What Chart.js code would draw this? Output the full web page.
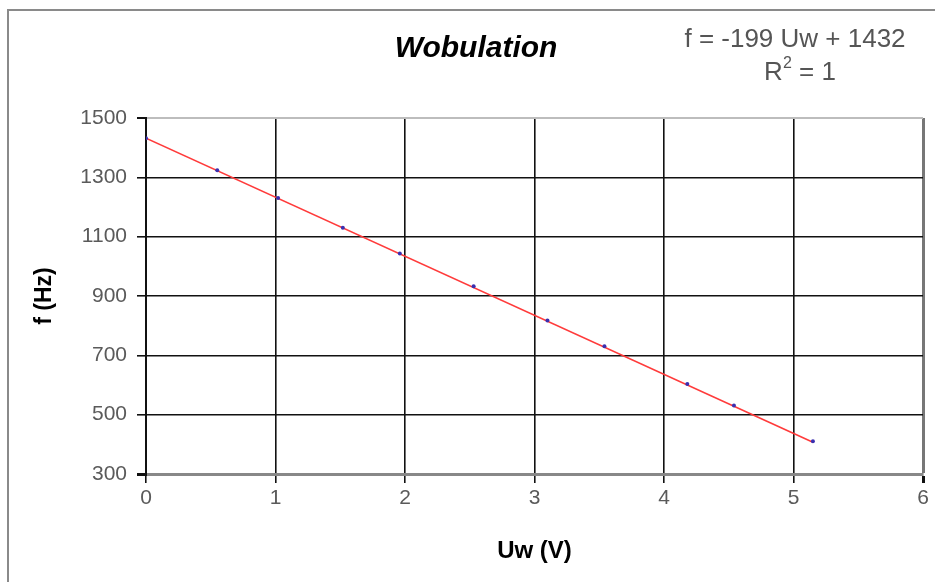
<!DOCTYPE html>
<html>
<head>
<meta charset="utf-8">
<title>Wobulation</title>
<script src="https://cdn.jsdelivr.net/npm/chart.js@4/dist/chart.umd.min.js"></script>
<style>
  html, body { margin: 0; padding: 0; background: #fff; }
  #wrap { width: 935px; height: 582px; position: relative; }
</style>
</head>
<body>
<div id="wrap"><canvas id="chart" width="935" height="582"></canvas></div>
<script>
// Measured control voltage (V) and resulting frequency (Hz)
const uwVolts = [0, 0.55, 1.02, 1.52, 1.96, 2.53, 3.10, 3.54, 4.18, 4.54, 5.15];
const freqHz  = [1432, 1324, 1230, 1130, 1043, 933, 817, 731, 603, 531, 410];

// Linear regression result shown on the chart
const slope = -199;
const intercept = 1432;
const rSquared = 1;

// Axis tick values
const xTicks = [0, 1, 2, 3, 4, 5, 6];
const yTicks = [300, 500, 700, 900, 1100, 1300, 1500];

const FONT = "'Liberation Sans', Arial, sans-serif";

const points = uwVolts.map((u, i) => ({ x: u, y: freqHz[i] }));
const lastU = uwVolts[uwVolts.length - 1];
const trend = [
  { x: 0, y: intercept },
  { x: lastU, y: slope * lastU + intercept }
];

// Frame, title and regression text
const decorations = {
  id: 'decorations',
  beforeDraw(chart) {
    const ctx = chart.ctx;
    ctx.save();
    ctx.fillStyle = '#fff';
    ctx.fillRect(0, 0, chart.width, chart.height);
    ctx.strokeStyle = '#8a8a8a';
    ctx.lineWidth = 2;
    ctx.strokeRect(8, 10, chart.width + 20, chart.height + 20);
    ctx.restore();
  },
  afterDraw(chart) {
    const ctx = chart.ctx;
    ctx.save();
    ctx.textAlign = 'center';
    ctx.textBaseline = 'middle';
    ctx.fillStyle = '#000';
    ctx.font = 'italic bold 30px ' + FONT;
    ctx.fillText('Wobulation', 476, 49);

    ctx.fillStyle = '#555';
    ctx.font = '26px ' + FONT;
    ctx.fillText('f = ' + slope + ' Uw + ' + intercept, 795, 40);
    // R² line with raised exponent
    const base = 'R';
    const rest = ' = ' + rSquared;
    ctx.font = '26px ' + FONT;
    const wBase = ctx.measureText(base).width;
    const wRest = ctx.measureText(rest).width;
    ctx.font = '16px ' + FONT;
    const wSup = ctx.measureText('2').width;
    const total = wBase + wSup + wRest;
    let x0 = 800 - total / 2;
    ctx.textAlign = 'left';
    ctx.font = '26px ' + FONT;
    ctx.fillText(base, x0, 73);
    ctx.font = '16px ' + FONT;
    ctx.fillText('2', x0 + wBase, 64);
    ctx.font = '26px ' + FONT;
    ctx.fillText(rest, x0 + wBase + wSup, 73);
    ctx.restore();
  }
};

new Chart(document.getElementById('chart'), {
  type: 'scatter',
  data: {
    datasets: [
      {
        label: 'f',
        data: points,
        showLine: false,
        pointRadius: 2,
        pointBorderWidth: 0,
        pointBackgroundColor: '#3a2fb0',
        pointBorderColor: '#3a2fb0'
      },
      {
        label: 'trend',
        data: trend,
        showLine: true,
        borderColor: '#ff3b3b',
        borderWidth: 1.6,
        pointRadius: 0,
        fill: false
      }
    ]
  },
  options: {
    responsive: false,
    animation: false,
    devicePixelRatio: 1,
    layout: { padding: { left: 0, top: 118, right: 12, bottom: 0 } },
    plugins: {
      legend: { display: false },
      tooltip: { enabled: false },
      title: { display: false }
    },
    scales: {
      x: {
        type: 'linear',
        min: xTicks[0],
        max: xTicks[xTicks.length - 1],
        afterBuildTicks(scale) { scale.ticks = xTicks.map(v => ({ value: v })); },
        afterFit(scale) { scale.height = 108; },
        ticks: {
          color: '#5a5a5a',
          font: { family: FONT, size: 21 },
          padding: 3,
          callback: (v) => String(v)
        },
        grid: {
          color: (c) => c.index === xTicks.length - 1 ? '#777' : '#111',
          lineWidth: (c) => c.index === xTicks.length - 1 ? 3 : 1.6,
          tickLength: 9,
          tickColor: '#111'
        },
        border: { color: '#888', width: 3 },
        title: {
          display: true,
          text: 'Uw (V)',
          color: '#000',
          font: { family: FONT, size: 24, weight: 'bold' },
          padding: { top: 0, bottom: 16 }
        }
      },
      y: {
        type: 'linear',
        min: yTicks[0],
        max: yTicks[yTicks.length - 1],
        afterBuildTicks(scale) { scale.ticks = yTicks.map(v => ({ value: v })); },
        afterFit(scale) { scale.width = 146; },
        ticks: {
          color: '#5a5a5a',
          font: { family: FONT, size: 21 },
          padding: 10,
          callback: (v) => String(v)
        },
        grid: {
          color: (c) => c.index === yTicks.length - 1 ? '#bdbdbd' : (c.index === 0 ? '#888' : '#111'),
          lineWidth: (c) => c.index === 0 ? 3 : (c.index === yTicks.length - 1 ? 2 : 1.6),
          tickLength: 9,
          tickColor: '#111'
        },
        border: { color: '#111', width: 2 },
        title: {
          display: true,
          text: 'f (Hz)',
          color: '#000',
          font: { family: FONT, size: 23, weight: 'bold' },
          padding: { top: 31, bottom: 0 }
        }
      }
    }
  },
  plugins: [decorations]
});
</script>
</body>
</html>
